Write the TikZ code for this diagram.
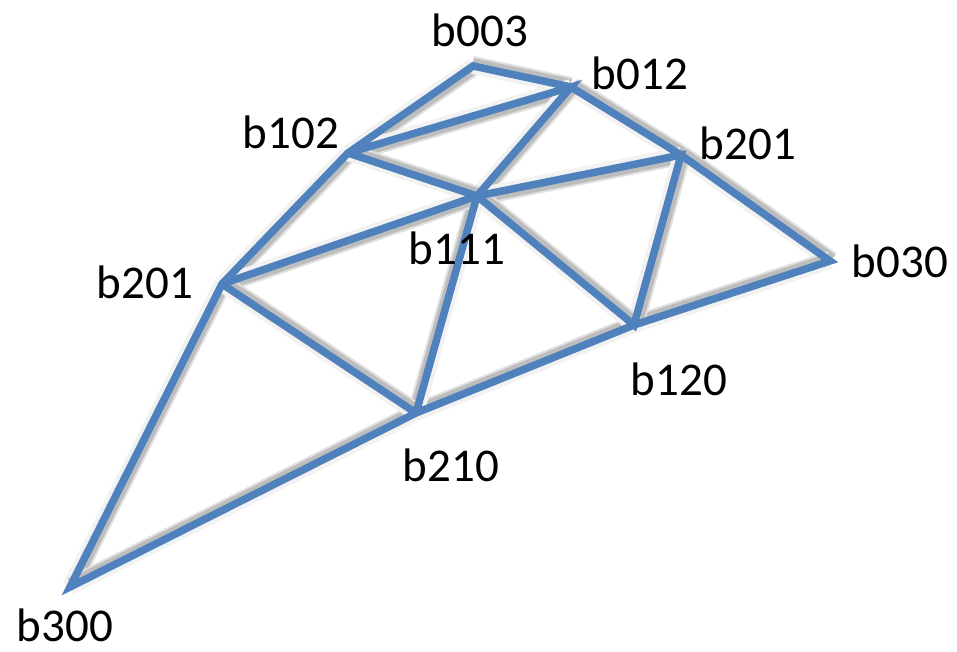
\documentclass[tikz,border=0pt]{standalone}
\usepackage{fontspec}
\setmainfont{Carlito}
\usetikzlibrary{calc}
\definecolor{meshblue}{RGB}{79,129,189}
\tikzset{%
  mesh/.style  = {draw=meshblue, line width=7.5pt, line join=miter},%
  shade/.style = {draw=black!12, line width=12pt,%
                  preaction={draw=black!5, line width=16pt},%
                  postaction={draw=black!26, line width=8pt}},%
  ctrl/.style  = {font=\fontsize{47}{56}\selectfont, inner sep=0pt}%
}
\begin{document}
\begin{tikzpicture}[x=1pt,y=-1pt]
	\useasboundingbox (0,0) rectangle (957,651);
	% control points
	\coordinate (v003)  at (473,66);
	\coordinate (v012)  at (571,87);
	\coordinate (v102)  at (348,153);
	\coordinate (v201r) at (681,155);
	\coordinate (v111)  at (477,196);
	\coordinate (v201l) at (222,284);
	\coordinate (v030)  at (830,261);
	\coordinate (v120)  at (634,325);
	\coordinate (v210)  at (416,413);
	\coordinate (v300)  at (70,587);
	% shadows
	\foreach \a/\b/\dx/\dy in {v300/v201l/4/0, v201l/v102/3/-3, v102/v003/3/-3,
		v003/v012/0/4, v012/v201r/3/3, v201r/v030/3/3, v030/v120/0/4,
		v120/v210/0/4, v210/v300/0/4, v102/v012/0/-4, v012/v111/3/-2,
		v111/v210/-3/0, v201l/v111/0/-4, v111/v201r/0/-4, v201r/v120/4/0,
		v111/v120/3/3, v102/v111/3/3, v201l/v210/3/3}
		\draw[shade, transform canvas={shift={(\dx pt,\dy pt)}}] (\a) -- (\b);
	% net
	\path[mesh] (v300) -- (v201l) -- (v102) -- (v003) -- (v012) -- (v201r)
		-- (v030) -- (v120) -- (v210) -- cycle
		(v102) -- (v012) -- (v111) -- (v210)
		(v201l) -- (v111) -- (v201r) -- (v120) -- (v111) -- (v102)
		(v201l) -- (v210);
	% labels
	\node[ctrl] (l003)  at (480,30)  {b003};
	\node[ctrl] (l012)  at (640,73)  {b012};
	\node[ctrl] (l102)  at (291,132) {b102};
	\node[ctrl] (l201r) at (748,143) {b201};
	\node[ctrl] (l111)  at (457,248) {b111};
	\node[ctrl] (l201l) at (145,282) {b201};
	\node[ctrl] (l030)  at (900,261) {b030};
	\node[ctrl] (l120)  at (679,379) {b120};
	\node[ctrl] (l210)  at (451,465) {b210};
	\node[ctrl] (l300)  at (65,625)  {b300};
\end{tikzpicture}
\end{document}
